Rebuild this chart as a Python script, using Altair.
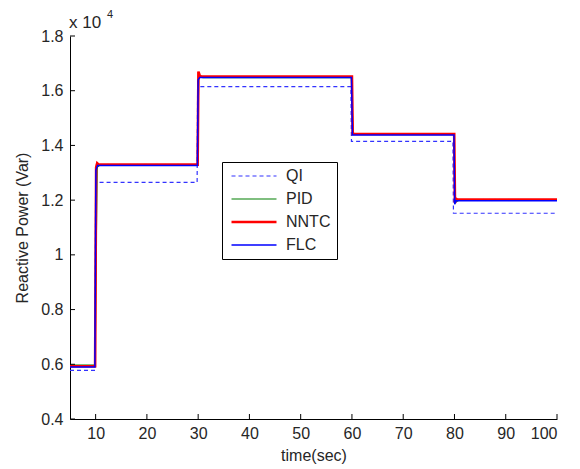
import altair as alt
import pandas as pd

SERIES = ["QI", "PID", "NNTC", "FLC"]
COLORS = ["#3333ff", "#007f00", "#ff0000", "#0000ff"]
DASHES = [[4, 3], [1, 0], [1, 0], [1, 0]]
WIDTHS = [1.2, 1.2, 2.6, 1.5]

# reactive power in units of 10^4 Var
QI_T = [5, 9.9, 10.0, 29.8, 29.9, 59.8, 59.9, 79.7, 79.8, 100]
QI_V = [0.578, 0.578, 1.265, 1.265, 1.615, 1.615, 1.415, 1.415, 1.152, 1.152]

PID_T = [5, 9.9, 10.1, 10.3, 10.8, 29.9, 30.1, 30.4, 30.9, 59.9, 60.2, 60.5, 79.9, 80.1, 80.4, 80.9, 100]
PID_V = [0.597, 0.597, 1.0, 1.32, 1.328, 1.328, 1.66, 1.655, 1.648, 1.648, 1.45, 1.44, 1.44, 1.19, 1.195, 1.2, 1.2]

NNTC_T = [5, 9.9, 10.1, 10.3, 10.6, 29.9, 30.05, 30.3, 30.6, 60.0, 60.15, 79.95, 80.1, 80.3, 80.6, 100]
NNTC_V = [0.593, 0.593, 1.32, 1.335, 1.33, 1.33, 1.67, 1.655, 1.652, 1.652, 1.442, 1.442, 1.19, 1.205, 1.202, 1.202]

FLC_T = [5, 9.85, 10.05, 10.4, 29.85, 30.0, 30.3, 59.9, 60.1, 79.9, 80.05, 80.3, 100]
FLC_V = [0.59, 0.59, 1.31, 1.327, 1.327, 1.64, 1.648, 1.648, 1.438, 1.438, 1.185, 1.198, 1.198]

Y_TICKS = [0.4, 0.6, 0.8, 1.0, 1.2, 1.4, 1.6, 1.8]
X_TICKS = [10, 20, 30, 40, 50, 60, 70, 80, 90, 100]

rows = []
for name, ts, vs in [("QI", QI_T, QI_V), ("PID", PID_T, PID_V),
                     ("NNTC", NNTC_T, NNTC_V), ("FLC", FLC_T, FLC_V)]:
    for i, (t, v) in enumerate(zip(ts, vs)):
        rows.append({"series": name, "t": t, "v": v, "i": i})
df = pd.DataFrame(rows)

FONT = "Liberation Sans"
TXT = "#262626"
xscale = alt.Scale(domain=[5, 100], nice=False, zero=False)
yscale = alt.Scale(domain=[0.4, 1.8], nice=False, zero=False)

X = alt.X("t:Q", scale=xscale,
          axis=alt.Axis(values=X_TICKS, title="time(sec)", ticks=False, grid=False,
                        labelPadding=6, titlePadding=6))
Y = alt.Y("v:Q", scale=yscale,
          axis=alt.Axis(values=Y_TICKS, title="Reactive Power (Var)", ticks=False, grid=False,
                        format="~g", labelPadding=7, titlePadding=10))

color = alt.Color("series:N", scale=alt.Scale(domain=SERIES, range=COLORS), title=None)
dash = alt.StrokeDash("series:N", scale=alt.Scale(domain=SERIES, range=DASHES), title=None)
width = alt.StrokeWidth("series:N", scale=alt.Scale(type="ordinal", domain=SERIES, range=WIDTHS), title=None)

layers = []
for name in SERIES:
    layers.append(
        alt.Chart(df).transform_filter(alt.datum.series == name)
        .mark_line(clip=True)
        .encode(x=X, y=Y, color=color, strokeDash=dash, strokeWidth=width,
                order="i:Q", detail="series:N")
    )

ytick_df = pd.DataFrame({"v": Y_TICKS})
xtick_df = pd.DataFrame({"t": X_TICKS})
yticks = alt.Chart(ytick_df).mark_rule(color="black", strokeWidth=1).encode(
    y=alt.Y("v:Q", scale=yscale), x=alt.value(0), x2=alt.value(5))
xticks = alt.Chart(xtick_df).mark_rule(color="black", strokeWidth=1).encode(
    x=alt.X("t:Q", scale=xscale), y=alt.value(383), y2=alt.value(378))

exp_df = pd.DataFrame({"s": ["x 10"]})
exp_text = alt.Chart(exp_df).mark_text(align="left", baseline="alphabetic", fontSize=17,
                                       font=FONT, color=TXT).encode(
    text="s:N", x=alt.value(-1), y=alt.value(-8))
sup_df = pd.DataFrame({"s": ["4"]})
sup_text = alt.Chart(sup_df).mark_text(align="left", baseline="alphabetic", fontSize=11,
                                       font=FONT, color=TXT).encode(
    text="s:N", x=alt.value(37), y=alt.value(-18))

chart = alt.layer(*layers, yticks, xticks, exp_text, sup_text).properties(
    width=487, height=383,
    autosize=alt.AutoSizeParams(type="none"),
    padding={"left": 70, "top": 36, "right": 23, "bottom": 50},
).configure_view(stroke=None).configure_axis(
    domainColor="black", domainWidth=1, labelFont=FONT, labelFontSize=16,
    labelColor=TXT, titleFont=FONT, titleFontSize=16, titleFontWeight="normal",
    titleColor=TXT,
).configure_legend(
    orient="none", legendX=152, legendY=126, strokeColor="black", fillColor="white",
    padding=6, symbolType="stroke", symbolSize=2025, labelFont=FONT, labelFontSize=16,
    labelColor=TXT, rowPadding=7, labelOffset=8, symbolOffset=2, clipHeight=16,
)

chart.save("out.html", embed_options={"renderer": "svg", "actions": False})
